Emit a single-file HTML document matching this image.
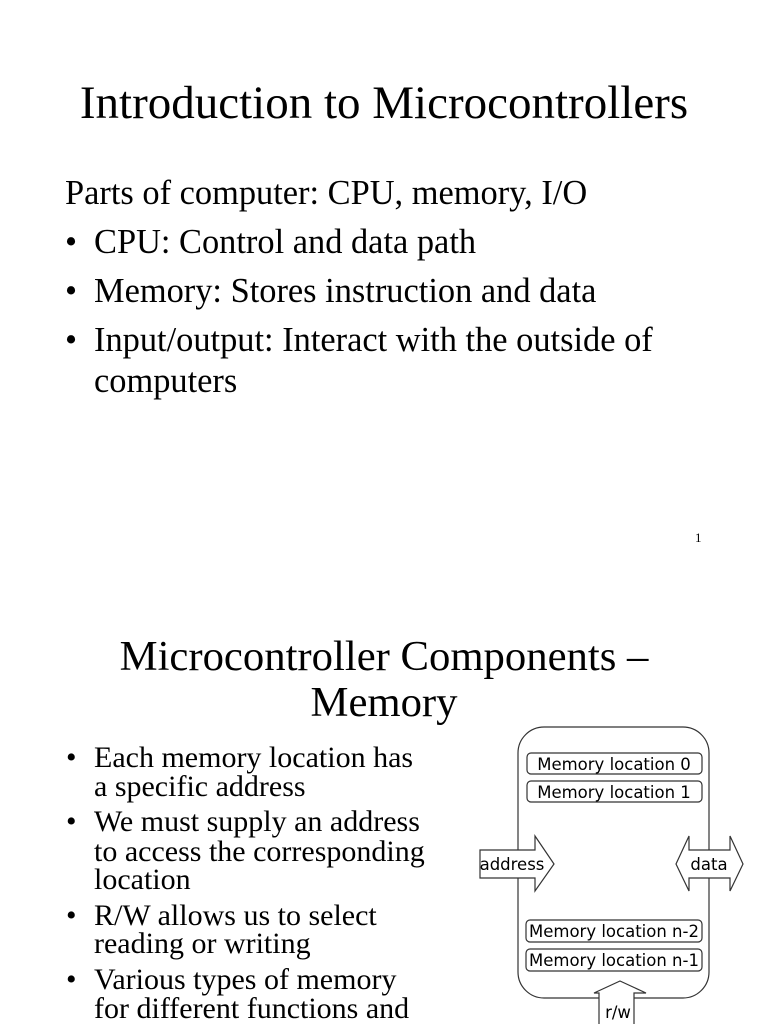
<!DOCTYPE html>
<html><head><meta charset="utf-8"><style>
body{margin:0;width:768px;height:1024px;background:#fff;position:relative;overflow:hidden;font-family:"Liberation Serif",serif;color:#000}
.l{position:absolute;white-space:nowrap}
.t{font-size:47px;line-height:56px}
.t2{font-size:42.7px;line-height:50px}
.b{font-size:34.4px;line-height:40px}
.s{font-size:30px;line-height:34px}
</style></head><body>
<div class="l t" style="left:0;width:768px;text-align:center;top:75px">Introduction to Microcontrollers</div>
<div class="l b" style="left:65px;top:173px">Parts of computer: CPU, memory, I/O</div>
<div class="l b" style="left:65px;top:222px">•</div><div class="l b" style="left:94px;top:222px">CPU: Control and data path</div>
<div class="l b" style="left:65px;top:271px">•</div><div class="l b" style="left:94px;top:271px">Memory: Stores instruction and data</div>
<div class="l b" style="left:65px;top:320px">•</div><div class="l b" style="left:94px;top:320px">Input/output: Interact with the outside of</div>
<div class="l b" style="left:94px;top:361px">computers</div>
<div class="l" style="left:695px;top:530px;font-size:13px">1</div>

<div class="l t2" style="left:0;width:768px;text-align:center;top:632px">Microcontroller Components –</div>
<div class="l t2" style="left:0;width:768px;text-align:center;top:678px">Memory</div>

<div class="l s" style="left:66px;top:741px">•</div><div class="l s" style="left:94px;top:741px">Each memory location has</div>
<div class="l s" style="left:94px;top:770px">a specific address</div>
<div class="l s" style="left:66px;top:805px">•</div><div class="l s" style="left:94px;top:805px">We must supply an address</div>
<div class="l s" style="left:94px;top:835px">to access the corresponding</div>
<div class="l s" style="left:94px;top:863px">location</div>
<div class="l s" style="left:66px;top:899px">•</div><div class="l s" style="left:94px;top:899px">R/W allows us to select</div>
<div class="l s" style="left:94px;top:927px">reading or writing</div>
<div class="l s" style="left:66px;top:963px">•</div><div class="l s" style="left:94px;top:963px">Various types of memory</div>
<div class="l s" style="left:94px;top:992px">for different functions and</div>

<svg width="768" height="1024" style="position:absolute;left:0;top:0" fill="none" stroke="#333" stroke-width="1.2">
<rect x="518" y="727" width="191" height="271" rx="26"/>
<rect x="527" y="753" width="175" height="21" rx="4"/>
<rect x="527" y="781" width="175" height="21" rx="4"/>
<rect x="526" y="920" width="176" height="22" rx="4"/>
<rect x="526" y="949" width="176" height="22" rx="4"/>
<polygon points="480,850 535,850 535,836 554,864 535,891 535,878 480,878" fill="#fff"/>
<polygon points="676,864 689,836 689,850 730,850 730,836 743,864 730,891 730,878 689,878 689,891" fill="#fff"/>
<polygon points="620,981 646,993 634,993 634,1030 599,1030 599,993 594,993" fill="#fff"/>
<g stroke="none" fill="#000" font-family="DejaVu Sans, Liberation Sans, sans-serif" font-size="16.5" text-anchor="middle">
<text x="614" y="770">Memory location 0</text>
<text x="614" y="798">Memory location 1</text>
<text x="614" y="937">Memory location n-2</text>
<text x="614" y="966">Memory location n-1</text>
<text x="512" y="870">address</text>
<text x="709" y="870">data</text>
<text x="618" y="1018">r/w</text>
</g>
</svg>
</body></html>
